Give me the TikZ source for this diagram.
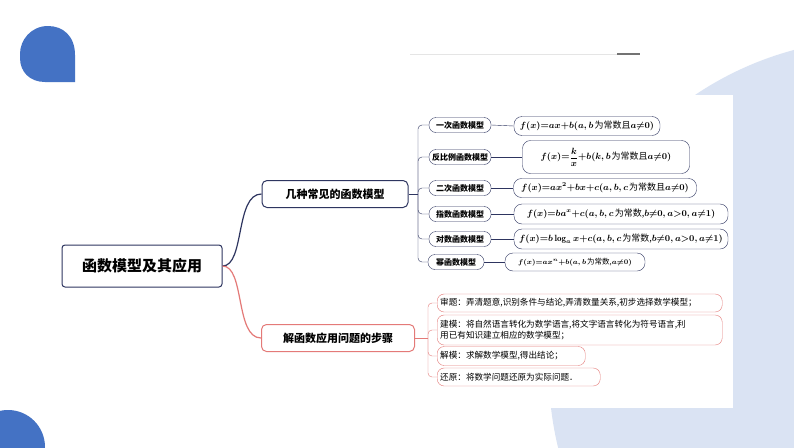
\documentclass[tikz,border=0pt]{standalone}
\usepackage{fontspec}
\newfontfamily\cjk{Noto Sans CJK SC}
\usetikzlibrary{positioning}
\definecolor{navy}{HTML}{2E3560}
\definecolor{steel}{HTML}{4472C4}
\definecolor{pale}{HTML}{DAE3F3}
\definecolor{rose}{HTML}{E47A78}

\begin{document}
\begin{tikzpicture} [x=1pt, y=-1pt,
            % ----- Node definitions ----- %
            rootnode/.style = {draw=navy, line width=1pt, rounded corners=3pt,
                minimum width=160pt, minimum height=42pt, font=\cjk\fontsize{15}{17}\selectfont\bfseries},
            branchnode/.style = {draw=#1, line width=1pt, rounded corners=5pt, fill=white,
                minimum height=27pt, font=\cjk\fontsize{11}{12}\selectfont\bfseries},
            kindnode/.style = {draw=navy, rounded corners=7pt, minimum width=62pt,
                minimum height=15pt, inner sep=1pt, font=\cjk\fontsize{8}{9}\selectfont\bfseries},
            formnode/.style = {draw=navy, rounded corners=8pt, inner sep=2pt,
                minimum height=#1, font=\fontsize{9}{10}\selectfont\bfseries\boldmath},
            formnode/.default = 19pt,
            stepnode/.style = {draw=rose, rounded corners=7pt, align=left, anchor=west,
                inner sep=3pt, font=\cjk\fontsize{8.6}{11.5}\selectfont},
    ]
            % ----- Background ----- %
        \useasboundingbox (0,0) rectangle (794,447);
        \fill[white] (0,0) rectangle (794,447);
        \begin{scope}
            \clip (0,0) rectangle (794,447);
            \fill[pale] (879.5,369.5) circle (330.7);
            \fill[steel] (8,447) circle (37);
        \end{scope}
        \fill[white] (412,95) rectangle (733,408);
        \fill[steel] (75,82) -- (75,55) .. controls (75,36) and (63,26) .. (48,26)
            .. controls (31,26) and (20,40) .. (20,54) -- (20,58)
            .. controls (20,72) and (30,82) .. (45,82) -- cycle;
        \draw[black!10, line width=0.8pt] (410,54) -- (617,54);
        \draw[black!55, line width=1.5pt] (617,54) -- (640,54);

            % ----- Node constructions ----- %
        \node [rootnode] (root) at (142,266) {函数模型及其应用};
        \node [branchnode=navy, minimum width=146pt] (kinds) at (335,194) {几种常见的函数模型};
        \node [branchnode=rose, minimum width=153pt] (steps) at (338,338) {解函数应用问题的步骤};

        \node [kindnode] (k1) at (460,125) {一次函数模型};
        \node [kindnode] (k2) at (460,157) {反比例函数模型};
        \node [kindnode] (k3) at (460,188) {二次函数模型};
        \node [kindnode] (k4) at (460,214) {指数函数模型};
        \node [kindnode] (k5) at (460,239) {对数函数模型};
        \node [kindnode, minimum width=56pt] (k6) at (456,262) {幂函数模型};

        \node [formnode, minimum width=146pt] (f1) at (587,126)
            {$f(x){=}ax{+}b(a,b$\kern1pt{\cjk\mdseries 为常数且}$a{\neq}0)$};
        \node [formnode=33pt, minimum width=167pt] (f2) at (606,157)
            {$f(x){=}\displaystyle\frac{k}{x}{+}b(k,b$\kern1pt{\cjk\mdseries 为常数且}$a{\neq}0)$};
        \node [formnode, minimum width=183pt] (f3) at (605,188)
            {$f(x){=}ax^2{+}bx{+}c(a,b,c$\kern1pt{\cjk\mdseries 为常数且}$a{\neq}0)$};
        \node [formnode=20pt, minimum width=214pt] (f4) at (621,214)
            {$f(x){=}ba^x{+}c(a,b,c$\kern1pt{\cjk\mdseries 为常数,}$b{\neq}0,a{>}0,a{\neq}1)$};
        \node [formnode=20pt, minimum width=214pt] (f5) at (621,239)
            {$f(x){=}b\log_a x{+}c(a,b,c$\kern1pt{\cjk\mdseries 为常数,}$b{\neq}0,a{>}0,a{\neq}1)$};
        \node [formnode=18pt, minimum width=140pt, font=\fontsize{7.5}{8}\selectfont\bfseries\boldmath] (f6) at (575,262)
            {$f(x){=}ax^n{+}b(a,b$\kern1pt{\cjk\mdseries 为常数,}$a{\neq}0)$};

        \node [stepnode, text width=279pt, minimum height=18pt] (s1) at (437,303)
            {审题：弄清题意,识别条件与结论,弄清数量关系,初步选择数学模型；};
        \node [stepnode, text width=279pt, minimum height=30pt] (s2) at (437,330)
            {建模：将自然语言转化为数学语言,将文字语言转化为符号语言,利\\用已有知识建立相应的数学模型；};
        \node [stepnode, text width=142pt, minimum height=19pt] (s3) at (437,356)
            {解模：求解数学模型,得出结论；};
        \node [stepnode, text width=157pt, minimum height=18pt] (s4) at (437,377)
            {还原：将数学问题还原为实际问题．};

            % ----- Connectors ----- %
        \draw [navy, line width=1.2pt] (root.east) .. controls (245,266) and (235,194) .. (kinds.west);
        \draw [rose, line width=1.2pt] (root.east) .. controls (245,266) and (235,338) .. (steps.west);

        \coordinate (kfork) at (418,194);
        \draw [navy] (kinds.east) -- (kfork);
        \foreach \k in {1,...,6} {
            \draw [navy, rounded corners=4pt] (kfork) |- (k\k.west);
            \draw [navy] (k\k.east) -- (f\k.west);
        }
        \coordinate (sfork) at (428,338);
        \draw [rose] (steps.east) -- (sfork);
        \foreach \s in {1,...,4}
            \draw [rose, rounded corners=4pt] (sfork) |- (s\s.west);
\end{tikzpicture}
\end{document}
